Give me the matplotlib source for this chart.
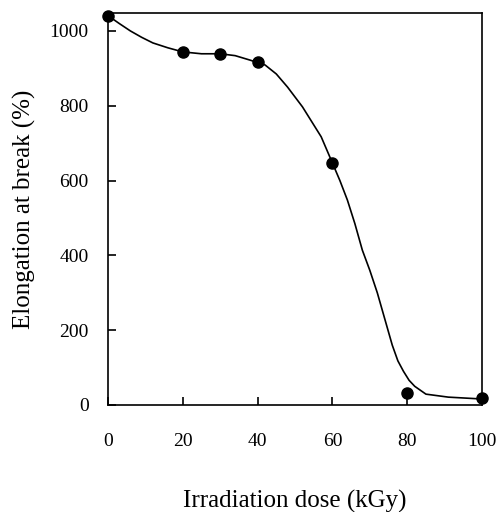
import matplotlib.pyplot as plt

# measured elongation at break vs irradiation dose
dose = [0, 20, 30, 40, 60, 80, 100]
elongation = [1041, 944, 939, 917, 647, 32, 19]

# hand-drawn trend curve through the data
curve_dose = [0, 3, 6, 9, 12, 16, 20, 25, 30, 34, 38, 42, 45, 48, 52, 57, 60, 62, 64, 66, 68,
              70, 72, 74, 76, 77.5, 79, 80.5, 82, 85, 91, 100]
curve_elong = [1041, 1020, 1000, 983, 968, 955, 944, 939, 939, 934, 922, 909, 885, 850, 797, 717, 647,
               600, 548, 485, 414, 360, 300, 230, 160, 118, 90, 66, 50, 29, 21, 16]

plt.rcParams['font.family'] = ['Liberation Serif', 'DejaVu Serif']

fig = plt.figure(figsize=(4.99, 5.12), dpi=100)
ax = fig.add_axes([0.2164, 0.209, 0.7496, 0.7656])

ax.plot(curve_dose, curve_elong, '-', color='black', lw=1.2)
ax.plot(dose, elongation, 'o', color='black', ms=8, clip_on=False, zorder=3)

ax.set_xlim(0, 100)
ax.set_ylim(0, 1048)
ax.set_xticks([0, 20, 40, 60, 80, 100])
ax.set_yticks([0, 200, 400, 600, 800, 1000])

ax.tick_params(direction='in', length=6, width=1.2, labelsize=14, colors='black')
ax.tick_params(axis='x', pad=20)
ax.tick_params(axis='y', pad=14)
for s in ax.spines.values():
    s.set_linewidth(1.2)

ax.set_xlabel('Irradiation dose (kGy)', fontsize=18, labelpad=29)
ax.set_ylabel('Elongation at break (%)', fontsize=18, labelpad=10)

fig.savefig('out.png', dpi=100)
